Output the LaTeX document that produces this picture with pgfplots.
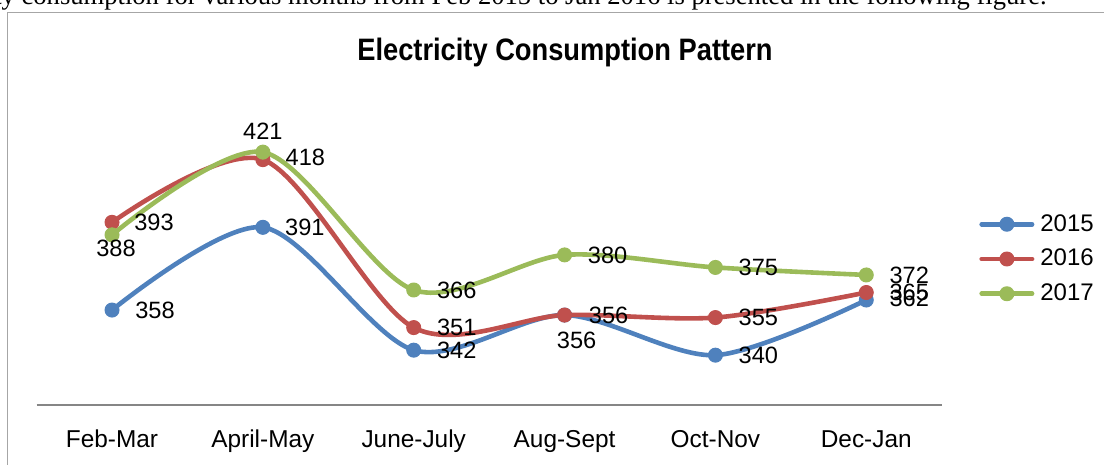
\documentclass[border=0pt]{standalone}
\usepackage{fontspec}
\setmainfont{Liberation Sans}
\newfontfamily\titlefont{Liberation Sans}[FakeStretch=0.88]
\newfontfamily\seriffont{Liberation Serif}
\usepackage{pgfplots}
\pgfplotsset{compat=1.18}
\usepackage{pgfplotstable}
\definecolor{cA}{HTML}{4F81BD}
\definecolor{cB}{HTML}{C0504D}
\definecolor{cC}{HTML}{9BBB59}
\definecolor{framegray}{HTML}{A6A6A6}
\definecolor{axgray}{HTML}{868686}
\newlength\toplen

\pgfplotstableread{
x y dx dy
0 358 21.5 0
1 391 21 0
2 342 21.5 0
3 356 6 -12.5
4 340 21.5 0
5 362 21.5 1
}\tA
\pgfplotstableread{
x y dx dy
0 393 21 0
1 418 21.25 1
2 351 21.5 0
3 356 22 0
4 355 21.5 0
5 365 21.5 0
}\tB
\pgfplotstableread{
x y dx dy
0 388 2 -7
1 421 0 10.5
2 366 21.5 0
3 380 21.5 0
4 375 21.5 0
5 372 21.5 0
}\tC

\pgfplotsset{
  lbl/.style={
    nodes near coords,
    visualization depends on={\thisrow{dx}\as\dx},
    visualization depends on={\thisrow{dy}\as\dy},
    every node near coord/.append style={anchor=center, xshift=\dx pt, yshift=\dy pt, inner sep=0pt, text=black, font=\fontsize{11.8pt}{13pt}\selectfont},
  }
}

\begin{document}
\settowidth{\toplen}{\fontsize{10pt}{12pt}\seriffont consumption for various months from Feb 2015 to Jan 2016 is presented in the following figure.}%
\pgfmathsetmacro\topfs{10*512.5/\toplen}%
\begin{tikzpicture}
\useasboundingbox (0,0) rectangle (552pt,-232.5pt);
\node[anchor=base east, inner sep=0] at (523.5pt,-2.25pt) {\fontsize{\topfs pt}{\topfs pt}\seriffont Electricity consumption for various months from Feb 2015 to Jan 2016 is presented in the following figure.};
\draw[framegray, line width=0.6pt] (3.6pt,-240pt) -- (3.6pt,-6.3pt) -- (560pt,-6.3pt);
\node[anchor=base, inner sep=0] at (282.5pt,-30.5pt) {\fontsize{15.5pt}{17pt}\titlefont\bfseries Electricity Consumption Pattern};
\begin{axis}[
  at={(18.3pt,-202.65pt)}, anchor=south west,
  scale only axis, width=452.55pt, height=150.4pt,
  xmin=-0.5, xmax=5.5, ymin=320, ymax=440,
  axis y line=none, axis x line=bottom,
  axis line style={-},
  x axis line style={draw=axgray, line width=1pt},
  xtick={0,...,5},
  xticklabels={Feb-Mar,April-May,June-July,Aug-Sept,Oct-Nov,Dec-Jan},
  major tick length=0pt,
  xticklabel style={anchor=base, yshift=-20.85pt, inner sep=0pt, font=\fontsize{12.2pt}{13pt}\selectfont},
  ytick=\empty,
  clip=false,
  /pgf/number format/assume math mode=true,
  every axis plot/.append style={line width=2.3pt, smooth, line cap=round, line join=round,
    mark=*, mark size=3.5pt},
  legend style={at={(axis description cs:1.0412,0.4864)}, anchor=west, draw=none, fill=none, inner sep=0pt,
    row sep=7.5pt, column sep=3pt, font=\fontsize{12pt}{13pt}\selectfont, nodes={inner sep=0pt}},
  legend cell align=left,
  legend image code/.code={\draw[#1, mark repeat=2, mark phase=2] plot coordinates {(0pt,0pt) (12.6pt,0pt) (25.2pt,0pt)};},
]
\addplot[cA, lbl, mark options={solid, fill=cA, line width=0.5pt}] table[x=x, y=y] {\tA};
\addlegendentry{2015}
\addplot[cB, lbl, mark options={solid, fill=cB, line width=0.5pt}] table[x=x, y=y] {\tB};
\addlegendentry{2016}
\addplot[cC, lbl, mark options={solid, fill=cC, line width=0.5pt}] table[x=x, y=y] {\tC};
\addlegendentry{2017}
\end{axis}
\end{tikzpicture}
\end{document}
